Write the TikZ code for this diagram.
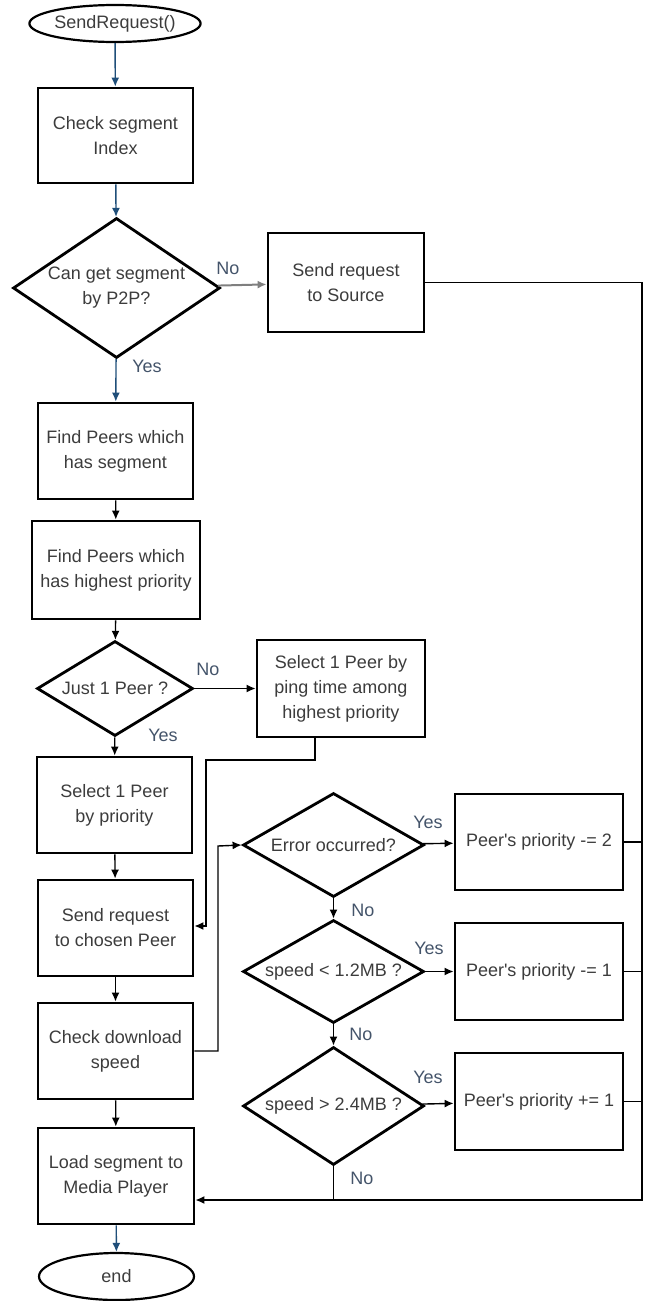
\documentclass[tikz,border=0pt]{standalone}
\usepackage{fontspec}
\setmainfont{Liberation Sans}[Ligatures=TeXOff]
\usetikzlibrary{shapes,arrows.meta}
\definecolor{txtgray}{HTML}{3C3C3C}
\definecolor{lblblue}{HTML}{44546A}
\definecolor{flowblue}{HTML}{1F4E79}
\definecolor{linegray}{HTML}{7F7F7F}
\begin{document}
\begin{tikzpicture}[x=1pt,y=-1pt]
        \tikzstyle{every node}+=[inner sep=0pt, font=\fontsize{18}{25}\selectfont, text=txtgray, align=center]
        \tikzstyle{proc}=[draw=black, line width=2.8pt, rectangle, minimum height=96pt]
        \tikzstyle{term}=[draw=black, line width=2.2pt, ellipse, minimum width=156pt]
        \tikzstyle{decide}=[draw=black, line width=2.8pt, diamond]
        \tikzstyle{lbl}=[text=lblblue]
        \tikzstyle{conn}=[black, line width=1.4pt, -{Latex[length=9pt,width=8pt]}]
        \tikzstyle{bconn}=[flowblue, line width=1.4pt, -{Latex[length=9pt,width=8pt]}]
        \tikzstyle{wire}=[black, line width=1.4pt]
        \useasboundingbox (0,0) rectangle (649,1301);
        \node [term, minimum height=37pt] (start) at (115,23.5) {SendRequest()};
        \node [proc, minimum width=155pt, minimum height=95pt] (chkidx) at (115.5,135.5) {Check segment\\Index};
        \node [decide, minimum width=207pt, minimum height=140pt, aspect=1.48] (canp2p) at (116.5,288) {Can get segment\\by P2P?};
        \node [proc, minimum width=156pt, minimum height=99pt] (src) at (346,282.5) {Send request\\to Source};
        \node [proc, minimum width=155pt] (findseg) at (115.5,451) {Find Peers which\\has segment};
        \node [proc, minimum width=168pt, minimum height=98pt] (findprio) at (116,570) {Find Peers which\\has highest priority};
        \node [decide, minimum width=156pt, minimum height=95pt, aspect=1.64] (just1) at (115,688.5) {Just 1 Peer ?};
        \node [proc, minimum width=168pt, minimum height=97pt] (ping) at (341,688.5) {Select 1 Peer by\\ping time among\\highest priority};
        \node [proc, minimum width=155pt] (byprio) at (114.5,805) {Select 1 Peer\\by priority};
        \node [proc, minimum width=155pt] (sendreq) at (115.5,928) {Send request\\to chosen Peer};
        \node [proc, minimum width=155pt] (chkspeed) at (115.5,1051) {Check download\\speed};
        \node [proc, minimum width=156pt] (load) at (116,1176) {Load segment to\\Media Player};
        \node [term, minimum width=155pt, minimum height=47pt] (endn) at (116.5,1276.5) {end};
        \node [decide, minimum width=181pt, minimum height=104pt, aspect=1.74] (err) at (333.5,845) {Error occurred?};
        \node [decide, minimum width=181pt, minimum height=103pt, aspect=1.76] (slow) at (333.5,971.5) {speed < 1.2MB ?};
        \node [decide, minimum width=181pt, minimum height=118pt, aspect=1.53] (fast) at (333.5,1106) {speed > 2.4MB ?};
        \node [proc, minimum width=168pt] (pmtwo) at (539,842) {Peer's priority -= 2};
        \node [proc, minimum width=168pt, minimum height=97pt] (pmone) at (539,971.5) {Peer's priority -= 1};
        \node [proc, minimum width=168pt, minimum height=97pt] (ppone) at (539,1101.5) {Peer's priority += 1};
        \coordinate (busend) at (642,1200);
        \coordinate (pingturn) at (206,760);
        \coordinate (loopx) at (218,846);
        \node [lbl] (nocan) at (228,268) {No};
        \node [lbl] (yescan) at (147,366) {Yes};
        \node [lbl] (nojust) at (208,669) {No};
        \node [lbl] (yesjust) at (163,735) {Yes};
        \node [lbl] (yeserr) at (428,822) {Yes};
        \node [lbl] (noerr) at (363,910) {No};
        \node [lbl] (yesslow) at (429,948) {Yes};
        \node [lbl] (noslow) at (361,1034) {No};
        \node [lbl] (yesfast) at (428,1077) {Yes};
        \node [lbl] (nofast) at (362,1178) {No};
        \draw [bconn] (start) -- (chkidx);
        \draw [bconn] (chkidx) -- (canp2p);
        \draw [bconn] (canp2p) -- (findseg);
        \draw [linegray, line width=2pt, -{Latex[length=9pt,width=8pt]}] (canp2p) -- (src);
        \draw [conn] (findseg) -- (findprio);
        \draw [conn] (findprio) -- (just1);
        \draw [conn] (just1) -- (ping);
        \draw [conn] (just1) -- (byprio);
        \draw [conn] (byprio) -- (sendreq);
        \draw [conn] (sendreq) -- (chkspeed);
        \draw [conn] (chkspeed) -- (load);
        \draw [bconn] (load) -- (endn);
        \draw [conn] ([xshift=-26pt]ping.south) |- (pingturn) |- ([yshift=2pt]sendreq.east);
        \draw [conn] (chkspeed.east) -| (loopx) -- (err.west);
        \draw [conn] (err) -- (pmtwo);
        \draw [conn] (slow) -- (pmone);
        \draw [conn] (fast) -- (ppone);
        \draw [conn] (err) -- (slow);
        \draw [conn] (slow) -- (fast);
        \draw [conn] (src.east) -| (busend) -- (load.east |- busend);
        \draw [wire] (pmtwo.east) -- (pmtwo.east -| busend);
        \draw [wire] (pmone.east) -- (pmone.east -| busend);
        \draw [wire] (ppone.east) -- (ppone.east -| busend);
        \draw [wire] (fast.south) -- (fast.south |- busend);
\end{tikzpicture}
\end{document}
